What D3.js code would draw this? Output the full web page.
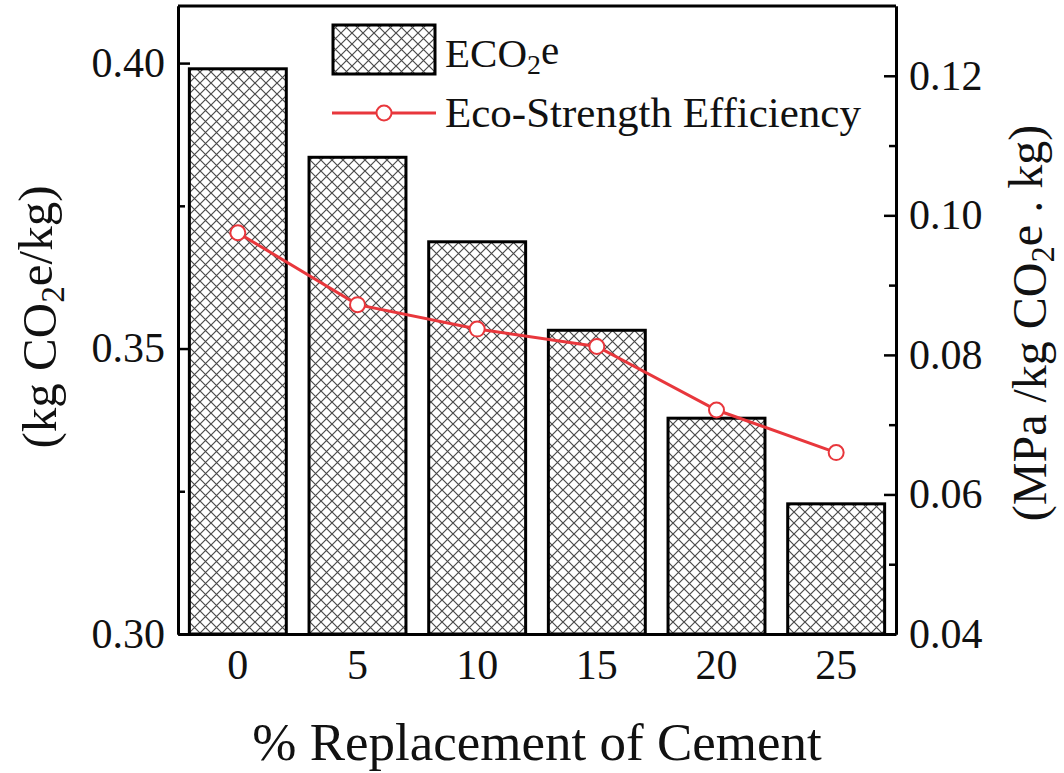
<!DOCTYPE html>
<html>
<head>
<meta charset="utf-8">
<script src="https://cdn.jsdelivr.net/npm/d3@7"></script>
<style>
  html, body { margin: 0; padding: 0; background: #fff; }
  svg text { font-family: "Liberation Serif", "Times New Roman", serif; fill: #111; }
</style>
</head>
<body>
<svg id="chart" width="1064" height="773"></svg>
<script>
// data
var replacement = ["0", "5", "10", "15", "20", "25"];
var eco2e = [0.399, 0.3835, 0.3687, 0.3532, 0.3378, 0.3228];
var efficiency = [0.0975, 0.0872, 0.0837, 0.0812, 0.0721, 0.0660];
var leftTicks = [0.30, 0.35, 0.40];
var leftMinor = [0.325, 0.375];
var rightTicks = [0.04, 0.06, 0.08, 0.10, 0.12];
var rightMinor = [0.05, 0.07, 0.09, 0.11];

var margin = {top: 6, right: 168, bottom: 139, left: 178},
	width = 1064 - margin.left - margin.right,
	height = 773 - margin.top - margin.bottom;

var svg = d3.select("#chart");

// crosshatch fill
var pat = svg.append("defs").append("pattern")
	.attr("id", "hatch")
	.attr("patternUnits", "userSpaceOnUse")
	.attr("width", 11)
	.attr("height", 11);
pat.append("rect").attr("width", 11).attr("height", 11).attr("fill", "#fff");
pat.append("path")
	.attr("d", "M-1,-1L12,12M-1,12L12,-1")
	.attr("stroke", "#4a4a4a")
	.attr("stroke-width", 1.2);

var x = d3.scaleBand().domain(replacement).range([0, width]).paddingInner(0.19).paddingOuter(0.095);
var yL = d3.scaleLinear().domain([0.30, 0.41]).range([height, 0]);
var yR = d3.scaleLinear().domain([0.04, 0.13]).range([height, 0]);

var g = svg.append("g")
	.attr("transform", "translate(" + margin.left + "," + margin.top + ")");

// bars
g.selectAll(".bar")
	.data(eco2e)
	.enter().append("rect")
	.attr("class", "bar")
	.attr("x", function(d, i) { return x(replacement[i]); })
	.attr("y", function(d) { return yL(d); })
	.attr("width", x.bandwidth())
	.attr("height", function(d) { return height - yL(d); })
	.attr("fill", "url(#hatch)")
	.attr("stroke", "#000")
	.attr("stroke-width", 3);

// frame top line
g.append("line")
	.attr("x1", 0).attr("x2", width)
	.attr("y1", 0).attr("y2", 0)
	.attr("stroke", "#000").attr("stroke-width", 3);

function styleAxis(sel) {
	sel.select(".domain").attr("stroke", "#000").attr("stroke-width", 3);
	sel.selectAll(".tick line").attr("stroke", "#000").attr("stroke-width", 2.5);
	sel.selectAll("text").attr("font-size", 42).attr("font-family", "Liberation Serif").attr("fill", "#111");
}

// bottom axis
g.append("g")
	.attr("transform", "translate(0," + height + ")")
	.call(d3.axisBottom(x).tickSize(0).tickPadding(15))
	.call(styleAxis);

// left axis
g.append("g")
	.call(d3.axisLeft(yL).tickValues(leftMinor).tickSizeInner(-7).tickSizeOuter(0).tickFormat(""))
	.call(styleAxis);
g.append("g")
	.call(d3.axisLeft(yL).tickValues(leftTicks).tickSizeInner(-12).tickSizeOuter(0).tickPadding(13).tickFormat(d3.format(".2f")))
	.call(styleAxis);

// right axis
g.append("g")
	.attr("transform", "translate(" + width + ",0)")
	.call(d3.axisRight(yR).tickValues(rightMinor).tickSizeInner(-7).tickSizeOuter(0).tickFormat(""))
	.call(styleAxis);
g.append("g")
	.attr("transform", "translate(" + width + ",0)")
	.call(d3.axisRight(yR).tickValues(rightTicks).tickSizeInner(-12).tickSizeOuter(0).tickPadding(13).tickFormat(d3.format(".2f")))
	.call(styleAxis);

// efficiency line
var line = d3.line()
	.x(function(d, i) { return x(replacement[i]) + x.bandwidth() / 2; })
	.y(function(d) { return yR(d); });

g.append("path")
	.datum(efficiency)
	.attr("d", line)
	.attr("fill", "none")
	.attr("stroke", "#e8373c")
	.attr("stroke-width", 3);

g.selectAll(".dot")
	.data(efficiency)
	.enter().append("circle")
	.attr("class", "dot")
	.attr("cx", function(d, i) { return x(replacement[i]) + x.bandwidth() / 2; })
	.attr("cy", function(d) { return yR(d); })
	.attr("r", 7.5)
	.attr("fill", "#fff")
	.attr("stroke", "#e8373c")
	.attr("stroke-width", 2);

// text with a subscript 2
function subText(sel, before, after) {
	sel.append("tspan").text(before);
	sel.append("tspan").text("2").attr("font-size", "0.68em").attr("dy", "0.25em");
	sel.append("tspan").text(after).attr("dy", "-0.25em");
}

// legend
var leg = svg.append("g");
leg.append("rect")
	.attr("x", 333).attr("y", 25)
	.attr("width", 102).attr("height", 49)
	.attr("fill", "url(#hatch)")
	.attr("stroke", "#000").attr("stroke-width", 3);
leg.append("text")
	.attr("x", 445).attr("y", 67)
	.attr("font-size", 41)
	.call(subText, "ECO", "e");
leg.append("line")
	.attr("x1", 332).attr("x2", 436)
	.attr("y1", 113).attr("y2", 113)
	.attr("stroke", "#e8373c").attr("stroke-width", 3);
leg.append("circle")
	.attr("cx", 384).attr("cy", 113).attr("r", 7.5)
	.attr("fill", "#fff").attr("stroke", "#e8373c").attr("stroke-width", 2);
leg.append("text")
	.attr("x", 445).attr("y", 127)
	.attr("font-size", 43)
	.text("Eco-Strength Efficiency");

// axis titles
svg.append("text")
	.attr("text-anchor", "middle")
	.attr("transform", "translate(537,760)")
	.attr("font-size", 53)
	.text("% Replacement of Cement");

svg.append("text")
	.attr("text-anchor", "middle")
	.attr("transform", "translate(56,317) rotate(-90)")
	.attr("font-size", 49)
	.call(subText, "(kg CO", "e/kg)");

svg.append("text")
	.attr("text-anchor", "middle")
	.attr("transform", "translate(1046,323) rotate(-90)")
	.attr("font-size", 48)
	.call(subText, "(MPa /kg CO", "e . kg)");
</script>
</body>
</html>
